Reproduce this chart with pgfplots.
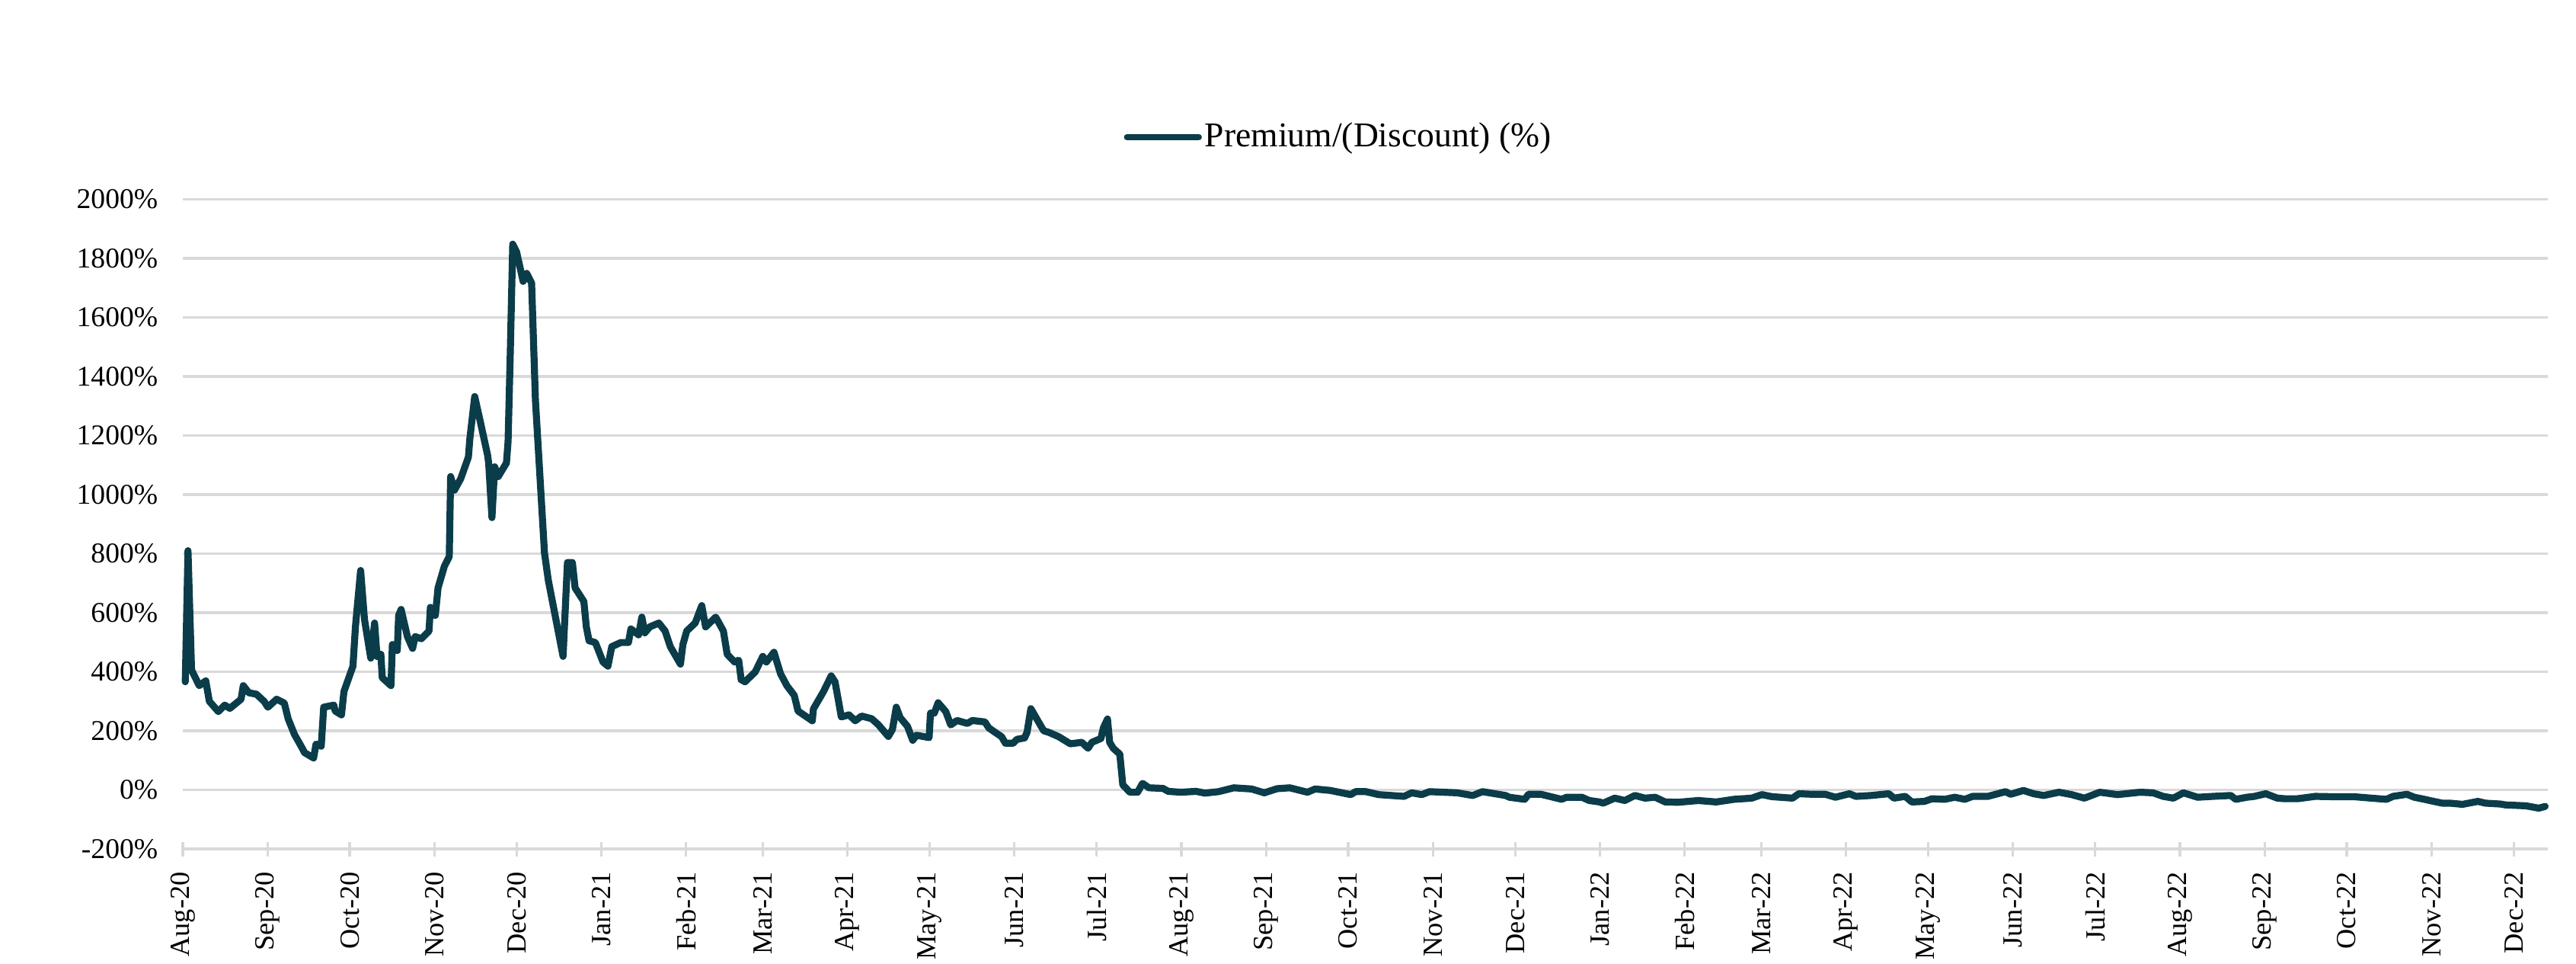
\documentclass[border=0pt]{standalone}
\usepackage{pgfplots}
\pgfplotsset{compat=1.18}
\usepackage{fontspec}
\setmainfont{Liberation Serif}
\definecolor{linec}{HTML}{0B3C49}
\definecolor{gridc}{HTML}{D9D9D9}
\begin{document}
\begin{tikzpicture}
\path[use as bounding box] (0pt,0pt) rectangle (845.5pt,316pt);
\begin{axis}[
  at={(60pt,37.5pt)}, anchor=south west,
  scale only axis, width=776.25pt, height=213.125pt,
  xmin=0, xmax=864.5, ymin=-200, ymax=2000,
  axis line style={draw=none},
  ymajorgrids, grid style={color=gridc, line width=0.8pt},
  ytick={-200,0,200,400,600,800,1000,1200,1400,1600,1800,2000},
  yticklabels={{-200\%},{0\%},{200\%},{400\%},{600\%},{800\%},{1000\%},{1200\%},{1400\%},{1600\%},{1800\%},{2000\%}},
  ytick style={draw=none},
  yticklabel style={font=\fontsize{9.4}{10}\selectfont, anchor=east, inner sep=0pt, xshift=-8pt},
  xtick={0,31,61,92,122,153,184,212,243,273,304,334,365,396,426,457,487,518,549,577,608,638,669,699,730,761,791,822,852},
  xticklabels={Aug-20,Sep-20,Oct-20,Nov-20,Dec-20,Jan-21,Feb-21,Mar-21,Apr-21,May-21,Jun-21,Jul-21,Aug-21,Sep-21,Oct-21,Nov-21,Dec-21,Jan-22,Feb-22,Mar-22,Apr-22,May-22,Jun-22,Jul-22,Aug-22,Sep-22,Oct-22,Nov-22,Dec-22},
  xtick pos=bottom, xtick align=center, major tick length=4.75pt,
  xtick style={color=gridc, line width=0.8pt},
  xticklabel style={font=\fontsize{9.1}{10}\selectfont, rotate=90, anchor=east, inner sep=0pt},
  xticklabel shift=5pt,
  clip=false,
  legend style={at={(0.4889,1.0956)}, anchor=center, draw=none, fill=none, inner sep=0pt,
    font=\fontsize{11.4}{13}\selectfont, nodes={inner sep=1pt}},
  legend image code/.code={\draw[#1, line cap=round, line width=2.1pt] (0pt,0pt) -- (23.5pt,0pt);},
]
\addplot[color=linec, line width=2.3pt, line join=round, line cap=round] table {
0.9 366
1.9 810
3.2 406
6.0 353
8.4 369
9.7 300
13.0 265
15.3 287
17.2 276
21.3 307
22.1 353
24.1 329
26.9 324
29.7 300
31.1 280
34.3 307
37.1 294
38.5 241
40.8 188
43.6 142
44.5 126
47.8 108
48.7 155
50.6 148
51.5 280
55.2 287
55.7 267
58.0 254
58.9 333
62.2 419
63.1 552
65.0 743
66.4 578
68.7 446
70.1 565
71.0 452
72.4 459
72.9 380
76.1 353
76.6 492
78.4 472
78.9 591
79.8 611
82.1 519
84.0 479
84.9 519
87.2 512
90.0 538
90.5 618
92.3 591
93.3 684
95.6 757
97.4 790
97.9 1061
99.3 1015
101.6 1054
104.4 1127
104.9 1187
106.7 1332
108.6 1253
111.4 1134
111.8 1107
113.0 922
114.0 1094
115.3 1061
118.3 1107
118.9 1180
119.7 1478
120.6 1848
122.0 1822
124.4 1722
125.7 1749
127.5 1716
128.9 1319
132.2 803
133.6 710
139.0 452
140.6 770
142.4 770
143.4 684
146.6 638
147.5 552
148.5 505
150.8 499
153.6 433
155.4 419
156.8 485
160.1 499
162.9 499
163.8 545
166.6 525
167.8 585
168.9 532
170.7 552
174.0 565
176.3 538
178.2 485
181.9 426
182.8 492
184.2 538
187.3 565
189.7 624
191.1 552
194.8 585
197.6 538
199.0 459
201.7 433
203.2 439
204.1 373
205.5 366
209.2 399
212.0 452
213.3 433
216.1 466
218.5 393
220.8 353
223.5 320
224.9 267
230.1 234
230.5 274
234.2 333
237.0 386
238.4 366
239.7 300
240.7 247
243.5 254
245.8 234
248.1 250
251.8 241
254.2 221
257.9 181
259.4 205
260.8 280
262.2 245
264.9 215
266.8 168
268.2 185
272.8 177
273.3 260
274.7 260
276.1 295
278.9 265
280.7 220
283.0 235
286.8 225
288.6 235
293.2 230
294.6 210
296.9 195
299.3 180
300.7 158
303.5 158
304.9 171
307.7 176
308.6 195
310.0 275
312.8 230
314.7 200
316.5 195
320.2 180
324.4 156
328.6 161
330.9 141
332.3 161
335.6 174
336.5 210
338.0 240
338.8 161
340.1 141
342.5 121
343.6 17
346.2 -8
349.0 -8
350.8 22
353.2 7
358.3 5
360.2 -5
364.8 -8
370.4 -5
373.6 -11
378.6 -6
384.2 7
390.7 3
395.3 -10
400.0 4
404.6 7
411.1 -8
413.9 3
419.5 -2
426.9 -16
428.7 -6
432.5 -6
437.1 -16
446.4 -22
449.2 -10
452.9 -16
455.7 -6
465.9 -10
471.5 -19
475.1 -6
483.5 -19
484.9 -25
490.5 -32
491.9 -15
496.5 -15
504.0 -32
505.8 -25
511.4 -25
514.1 -36
517.9 -41
519.2 -45
523.4 -28
527.1 -36
530.8 -19
534.5 -28
538.2 -25
541.9 -41
546.6 -42
554.0 -36
560.5 -41
567.0 -32
573.5 -28
577.2 -16
580.9 -23
588.4 -28
590.7 -13
595.8 -15
600.4 -15
604.1 -25
609.2 -13
611.6 -22
617.1 -19
623.6 -13
625.5 -28
629.6 -22
632.0 -41
636.6 -39
639.4 -30
644.0 -32
647.7 -25
651.4 -32
654.2 -22
659.8 -22
666.3 -6
668.1 -15
672.8 -2
676.5 -13
680.2 -19
685.8 -8
690.4 -16
695.1 -28
700.7 -8
707.2 -16
715.5 -8
720.2 -10
723.9 -22
727.6 -28
731.3 -10
736.5 -25
742.0 -22
748.6 -19
750.4 -32
754.5 -25
757.2 -22
761.4 -13
765.6 -28
768.4 -30
773.0 -30
779.5 -22
785.1 -23
793.5 -23
800.0 -28
805.5 -32
807.9 -22
813.0 -15
815.7 -25
819.4 -32
821.3 -36
825.9 -45
828.7 -45
833.3 -49
838.9 -39
841.7 -45
847.2 -48
849.1 -51
856.5 -54
861.2 -62
863.5 -56
};
\addlegendentry{Premium/(Discount) (\%)}
\end{axis}
\end{tikzpicture}
\end{document}
